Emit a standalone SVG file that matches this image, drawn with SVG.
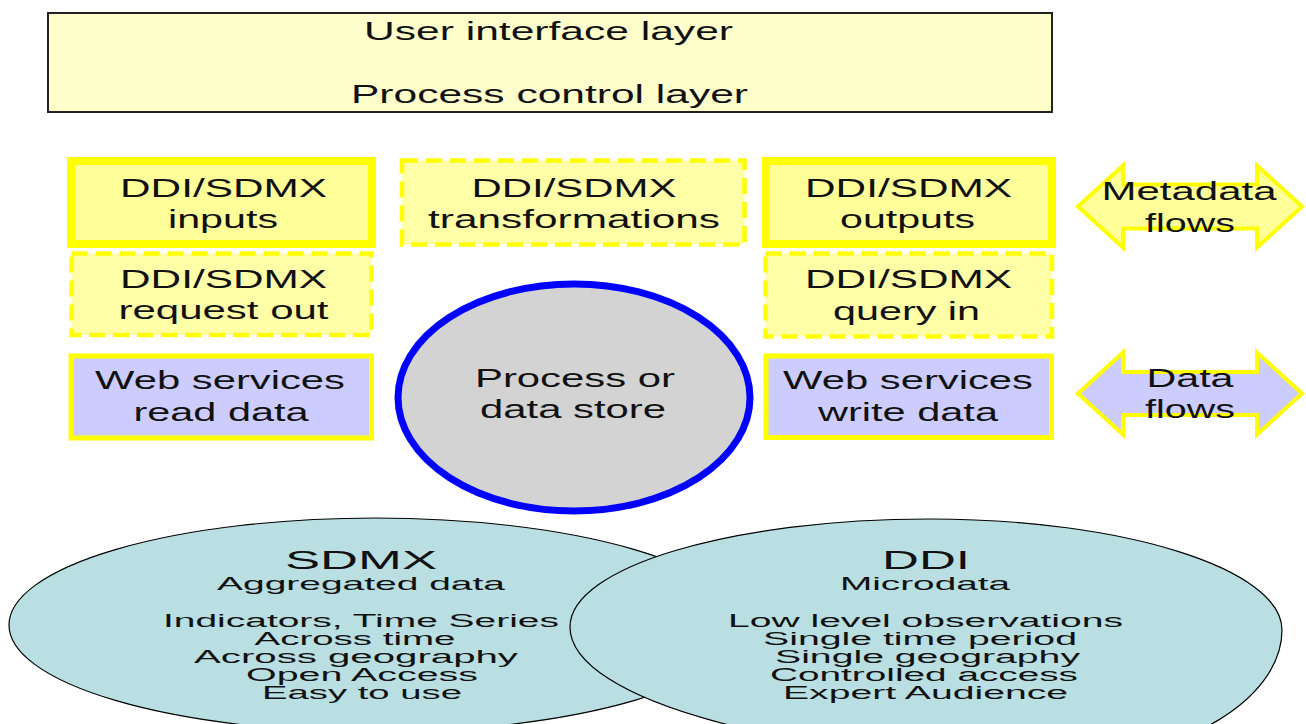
<svg xmlns="http://www.w3.org/2000/svg" width="1306" height="724" viewBox="0 0 1306 724">
  <style>
    text { font-family: "Liberation Sans", Arial, sans-serif; fill: #111; text-anchor: middle; }
    .layer { fill: #FFFFCC; stroke: #222; stroke-width: 2; }
    .solid { fill: #FFFF99; stroke: #FFFF00; stroke-width: 8; }
    .dash { fill: #FFFFA8; stroke: #FFFF00; stroke-width: 4.5; stroke-dasharray: 16 8; }
    .svc { fill: #CCCCFF; stroke: #FFFF00; stroke-width: 5; }
    .store { fill: #D3D3D3; stroke: #0000FF; stroke-width: 7; }
    .flow { stroke: #FFFF00; stroke-width: 4; stroke-linejoin: miter; }
    .std { fill: #B9DFE3; stroke: #000; stroke-width: 1.2; }
    .t25 { font-size: 25px; }
    .t26 { font-size: 26px; }
    .t19 { font-size: 19px; }
    .t18 { font-size: 18px; }
  </style>

  <!-- standards: SDMX underneath, DDI overlapping it -->
  <g id="sdmx">
    <ellipse class="std" cx="375" cy="625" rx="366" ry="107"/>
    <text class="t26" x="361" y="569" textLength="152" lengthAdjust="spacingAndGlyphs">SDMX</text>
    <text class="t19" x="361" y="590" textLength="288" lengthAdjust="spacingAndGlyphs">Aggregated data</text>
    <text class="t18" x="361" y="627" textLength="396" lengthAdjust="spacingAndGlyphs">Indicators, Time Series</text>
    <text class="t18" x="355" y="645" textLength="201" lengthAdjust="spacingAndGlyphs">Across time</text>
    <text class="t18" x="356" y="663" textLength="324" lengthAdjust="spacingAndGlyphs">Across geography</text>
    <text class="t18" x="362" y="681" textLength="232" lengthAdjust="spacingAndGlyphs">Open Access</text>
    <text class="t18" x="362" y="699" textLength="200" lengthAdjust="spacingAndGlyphs">Easy to use</text>
  </g>

  <g id="ddi">
    <path class="std" d="M570,627 C570,567 731,519 930,519 C1124,519 1282,569 1282,630 C1282,699 1183,760 1060,760 C789,760 570,700 570,627 Z"/>
    <text class="t26" x="926" y="569" textLength="88" lengthAdjust="spacingAndGlyphs">DDI</text>
    <text class="t19" x="925" y="590" textLength="170" lengthAdjust="spacingAndGlyphs">Microdata</text>
    <text class="t18" x="925.5" y="627" textLength="395" lengthAdjust="spacingAndGlyphs">Low level observations</text>
    <text class="t18" x="920" y="645" textLength="314" lengthAdjust="spacingAndGlyphs">Single time period</text>
    <text class="t18" x="927.5" y="663" textLength="305" lengthAdjust="spacingAndGlyphs">Single geography</text>
    <text class="t18" x="924" y="681" textLength="308" lengthAdjust="spacingAndGlyphs">Controlled access</text>
    <text class="t18" x="925.5" y="699" textLength="285" lengthAdjust="spacingAndGlyphs">Expert Audience</text>
  </g>

  <!-- control layers -->
  <g id="layers">
    <rect class="layer" x="48" y="13" width="1004" height="99"/>
    <text class="t25" x="548.5" y="40" textLength="369" lengthAdjust="spacingAndGlyphs">User interface layer</text>
    <text class="t25" x="549.5" y="103" textLength="397" lengthAdjust="spacingAndGlyphs">Process control layer</text>
  </g>

  <!-- metadata components -->
  <g id="inputs">
    <rect class="solid" x="71" y="161" width="301" height="83"/>
    <text class="t26" x="223.5" y="197" textLength="207" lengthAdjust="spacingAndGlyphs">DDI/SDMX</text>
    <text class="t26" x="223" y="228" textLength="110" lengthAdjust="spacingAndGlyphs">inputs</text>
  </g>

  <g id="transformations">
    <rect class="dash" x="402" y="160.5" width="342.5" height="84"/>
    <text class="t26" x="574" y="197" textLength="205" lengthAdjust="spacingAndGlyphs">DDI/SDMX</text>
    <text class="t26" x="574" y="228" textLength="292" lengthAdjust="spacingAndGlyphs">transformations</text>
  </g>

  <g id="outputs">
    <rect class="solid" x="766" y="161" width="286" height="83"/>
    <text class="t26" x="908.5" y="197" textLength="207" lengthAdjust="spacingAndGlyphs">DDI/SDMX</text>
    <text class="t26" x="907.5" y="228" textLength="135" lengthAdjust="spacingAndGlyphs">outputs</text>
  </g>

  <g id="request-out">
    <rect class="dash" x="71.5" y="253.5" width="300" height="81.5"/>
    <text class="t26" x="223.5" y="288" textLength="207" lengthAdjust="spacingAndGlyphs">DDI/SDMX</text>
    <text class="t26" x="223.5" y="319" textLength="210" lengthAdjust="spacingAndGlyphs">request out</text>
  </g>

  <g id="query-in">
    <rect class="dash" x="765.5" y="253.5" width="286.5" height="83"/>
    <text class="t26" x="908.5" y="288" textLength="207" lengthAdjust="spacingAndGlyphs">DDI/SDMX</text>
    <text class="t26" x="906.5" y="320" textLength="147" lengthAdjust="spacingAndGlyphs">query in</text>
  </g>

  <!-- data services -->
  <g id="read-data">
    <rect class="svc" x="71" y="356" width="300.5" height="82"/>
    <text class="t26" x="220" y="389" textLength="250" lengthAdjust="spacingAndGlyphs">Web services</text>
    <text class="t26" x="221" y="421" textLength="175" lengthAdjust="spacingAndGlyphs">read data</text>
  </g>

  <g id="write-data">
    <rect class="svc" x="766" y="356" width="285.5" height="81.5"/>
    <text class="t26" x="908" y="389" textLength="250" lengthAdjust="spacingAndGlyphs">Web services</text>
    <text class="t26" x="908" y="421" textLength="180" lengthAdjust="spacingAndGlyphs">write data</text>
  </g>

  <g id="store">
    <ellipse class="store" cx="574" cy="397.5" rx="176" ry="113.5"/>
    <text class="t26" x="575" y="387" textLength="200" lengthAdjust="spacingAndGlyphs">Process or</text>
    <text class="t26" x="573" y="418" textLength="186" lengthAdjust="spacingAndGlyphs">data store</text>
  </g>

  <!-- two-way flow symbols -->
  <g id="metadata-flows">
    <polygon class="flow" fill="#FFFF99" points="1078,206.5 1123,165.5 1123,184.5 1257,184.5 1257,165.5 1302,206.5 1257,247.5 1257,228.5 1123,228.5 1123,247.5"/>
    <text class="t26" x="1189" y="200" textLength="175" lengthAdjust="spacingAndGlyphs">Metadata</text>
    <text class="t26" x="1190" y="232" textLength="90" lengthAdjust="spacingAndGlyphs">flows</text>
  </g>

  <g id="data-flows">
    <polygon class="flow" fill="#CCCCFF" points="1078,393.5 1123,352.5 1123,372 1257,372 1257,352.5 1302,393.5 1257,434.5 1257,415 1123,415 1123,434.5"/>
    <text class="t26" x="1190" y="387" textLength="87" lengthAdjust="spacingAndGlyphs">Data</text>
    <text class="t26" x="1190" y="418" textLength="90" lengthAdjust="spacingAndGlyphs">flows</text>
  </g>

  <g id="connectors"/>
</svg>
